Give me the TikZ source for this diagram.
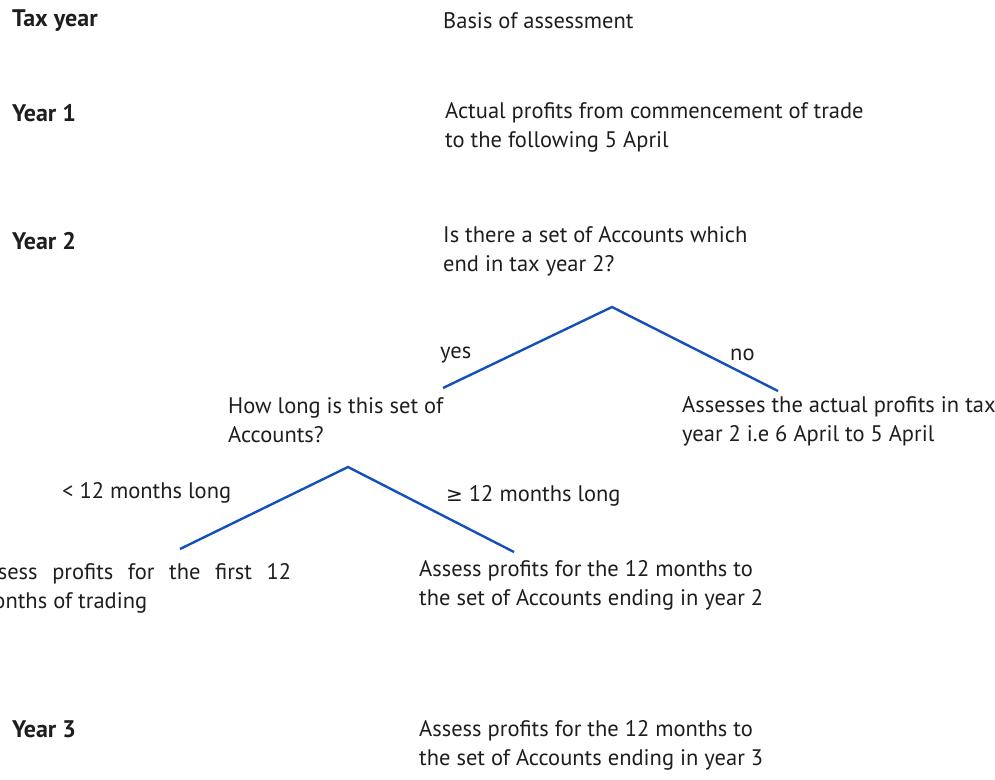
\documentclass[tikz,border=0pt]{standalone}
\usepackage{fontspec}
\setmainfont{PT Sans}
\newfontfamily\symfont{DejaVu Sans}
\definecolor{branch}{RGB}{20,80,185}
\definecolor{txt}{RGB}{30,30,30}
\begin{document}
\begin{tikzpicture}[x=1pt,y=-1pt,
  lbl/.style={inner sep=0pt,anchor=west,align=left,text=txt,font=\fontsize{22.5}{29}\selectfont},
  head/.style={lbl,font=\fontsize{24}{29}\selectfont\bfseries},
  branchline/.style={draw=branch,line width=2.4pt}]
\useasboundingbox (0,0) rectangle (995,779);
\node[head] (tax) at (12,21) {Tax year};
\node[lbl] (basis) at (443,21) {Basis of assessment};
\node[head] (y1) at (12,113) {Year 1};
\node[lbl] (y1b) at (445,127) {Actual profits from commencement of trade\\to the following 5 April};
\node[head] (y2) at (12,241) {Year 2};
\node[lbl] (q1) at (443,251) {Is there a set of Accounts which\\end in tax year 2?};
\coordinate (a1) at (612,307);
\coordinate (yesend) at (443,388);
\coordinate (noend) at (778,391);
\draw[branchline] (yesend) -- (a1) -- (noend);
\node[lbl] (yes) at (440,355) {yes};
\node[lbl] (no) at (730,355) {no};
\node[lbl] (q2) at (228,420) {How long is this set of\\Accounts?};
\node[lbl] (noans) at (682,421) {Assesses the actual profits in tax\\year 2 i.e 6 April to 5 April};
\coordinate (a2) at (348,467);
\coordinate (ltend) at (180,549);
\coordinate (geend) at (514,552);
\draw[branchline] (ltend) -- (a2) -- (geend);
\node[lbl] (lt) at (62,493) {< 12 months long};
\node[lbl] (ge) at (446,496) {{\symfont\fontsize{20}{29}\selectfont≥} 12 months long};
\node[lbl,text width=316pt,align=justify] (ltans) at (-25,588) {Assess profits for the first 12 months of trading};
\node[lbl] (geans) at (419,585) {Assess profits for the 12 months to\\the set of Accounts ending in year 2};
\node[head] (y3) at (12,729) {Year 3};
\node[lbl] (y3b) at (419,745) {Assess profits for the 12 months to\\the set of Accounts ending in year 3};
\end{tikzpicture}
\end{document}
